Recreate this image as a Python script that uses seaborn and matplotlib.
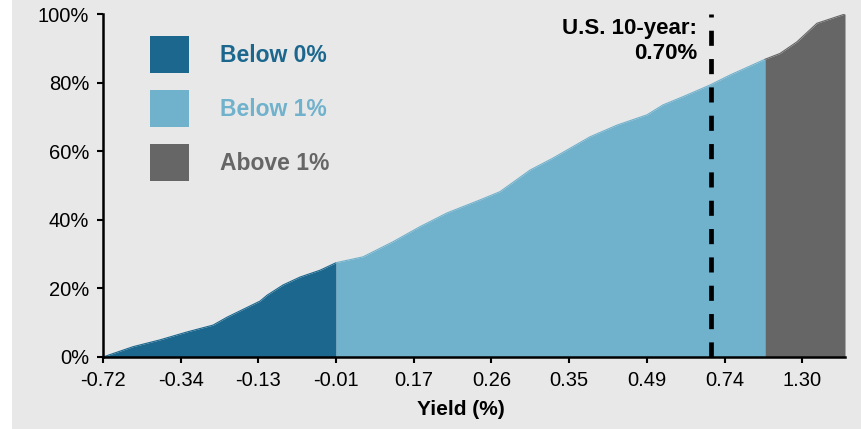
import matplotlib
matplotlib.use("Agg")
import matplotlib.pyplot as plt
from matplotlib.patches import Patch, Rectangle
import seaborn as sns
import numpy as np
import pandas as pd

# cumulative share of the market (%) against the bond's position on the sorted yield axis
position = [0.0, 0.386, 0.734, 1.081, 1.416, 1.596, 2.021, 2.111, 2.317, 2.535, 2.793, 3.0,
            3.346, 3.732, 4.080, 4.427, 4.852, 5.109, 5.496, 5.792, 6.268, 6.615, 7.001,
            7.207, 7.465, 7.812, 8.069, 8.52, 8.713, 8.932, 9.189, 9.55]
cum_share = [0.0, 3.0, 5.0, 7.3, 9.3, 11.6, 16.3, 18.0, 21.0, 23.3, 25.3, 27.5,
             29.2, 33.6, 38.0, 42.0, 45.8, 48.2, 54.5, 58.0, 64.2, 67.6, 70.6,
             73.5, 75.9, 79.3, 82.2, 86.8, 88.5, 91.9, 97.3, 100.0]

tick_labels = ["-0.72", "-0.34", "-0.13", "-0.01", "0.17", "0.26", "0.35", "0.49", "0.74", "1.30"]
below0_end = 3.0
below1_end = 8.52
us10y_pos = 7.825
us10y_label = "U.S. 10-year:\n0.70%"

segments = ["Below 0%", "Below 1%", "Above 1%"]
colors = ["#1b678e", "#70b1cc", "#666666"]

df = pd.DataFrame({"position": position, "cum_share": cum_share})

sns.set_theme(style="white")
plt.rcParams["font.family"] = ["Liberation Sans", "DejaVu Sans"]

bg = "#e8e8e8"
fig = plt.figure(figsize=(8.62, 4.29), dpi=100, facecolor="white")
fig.patches.append(Rectangle((12 / 862, 0), 1, 1, transform=fig.transFigure,
                             facecolor=bg, edgecolor="none", zorder=-10))
ax = fig.add_axes([103 / 862, 1 - 357 / 429, 742 / 862, 343 / 429])
ax.set_facecolor(bg)

bounds = [(0.0, below0_end), (below0_end, below1_end), (below1_end, max(position))]
for (lo, hi), col in zip(bounds, colors):
    seg = df[(df["position"] >= lo) & (df["position"] <= hi)]
    ax.fill_between(seg["position"], 0, seg["cum_share"], color=col, linewidth=0)
    sns.lineplot(data=seg, x="position", y="cum_share", color=col, linewidth=0.8, ax=ax)

ax.axvline(us10y_pos, color="black", linewidth=3.4, linestyle=(0, (3.2, 2.8)),
           dash_capstyle="butt", zorder=5)
ax.annotate(us10y_label, xy=(us10y_pos, 100), xycoords="data", xytext=(-10, -3),
            textcoords="offset points", ha="right", va="top", fontsize=16,
            fontweight="bold", linespacing=1.25, color="black")

ax.set_xlim(0, max(position))
ax.set_ylim(0, 100)
ax.set_xticks(np.arange(len(tick_labels)))
ax.set_xticklabels(tick_labels)
ax.set_yticks(np.arange(0, 101, 20))
ax.set_yticklabels([f"{v}%" for v in range(0, 101, 20)])
ax.tick_params(axis="both", direction="out", length=4, width=1.5, colors="black",
               labelsize=14.5, pad=6, bottom=True, left=True)
for side in ["top", "right"]:
    ax.spines[side].set_visible(False)
for side in ["left", "bottom"]:
    ax.spines[side].set_color("black")
    ax.spines[side].set_linewidth(1.8)

ax.set_xlabel("Yield (%)", fontsize=15, fontweight="bold", color="black")
ax.set_ylabel("")
ax.xaxis.set_label_coords((461 - 103) / 742, -0.125)

handles = [Patch(facecolor=c, edgecolor="none") for c in colors]
leg = ax.legend(handles, segments, loc="upper left", bbox_to_anchor=(47 / 742, 1 - 22 / 343),
                frameon=False, handlelength=1.7, handleheight=2.1,
                labelspacing=0.75, handletextpad=1.35, borderpad=0, borderaxespad=0,
                prop={"weight": "bold", "size": 16.5})
for txt, c in zip(leg.get_texts(), colors):
    txt.set_color(c)

fig.savefig("out.png", dpi=100, facecolor=fig.get_facecolor())
